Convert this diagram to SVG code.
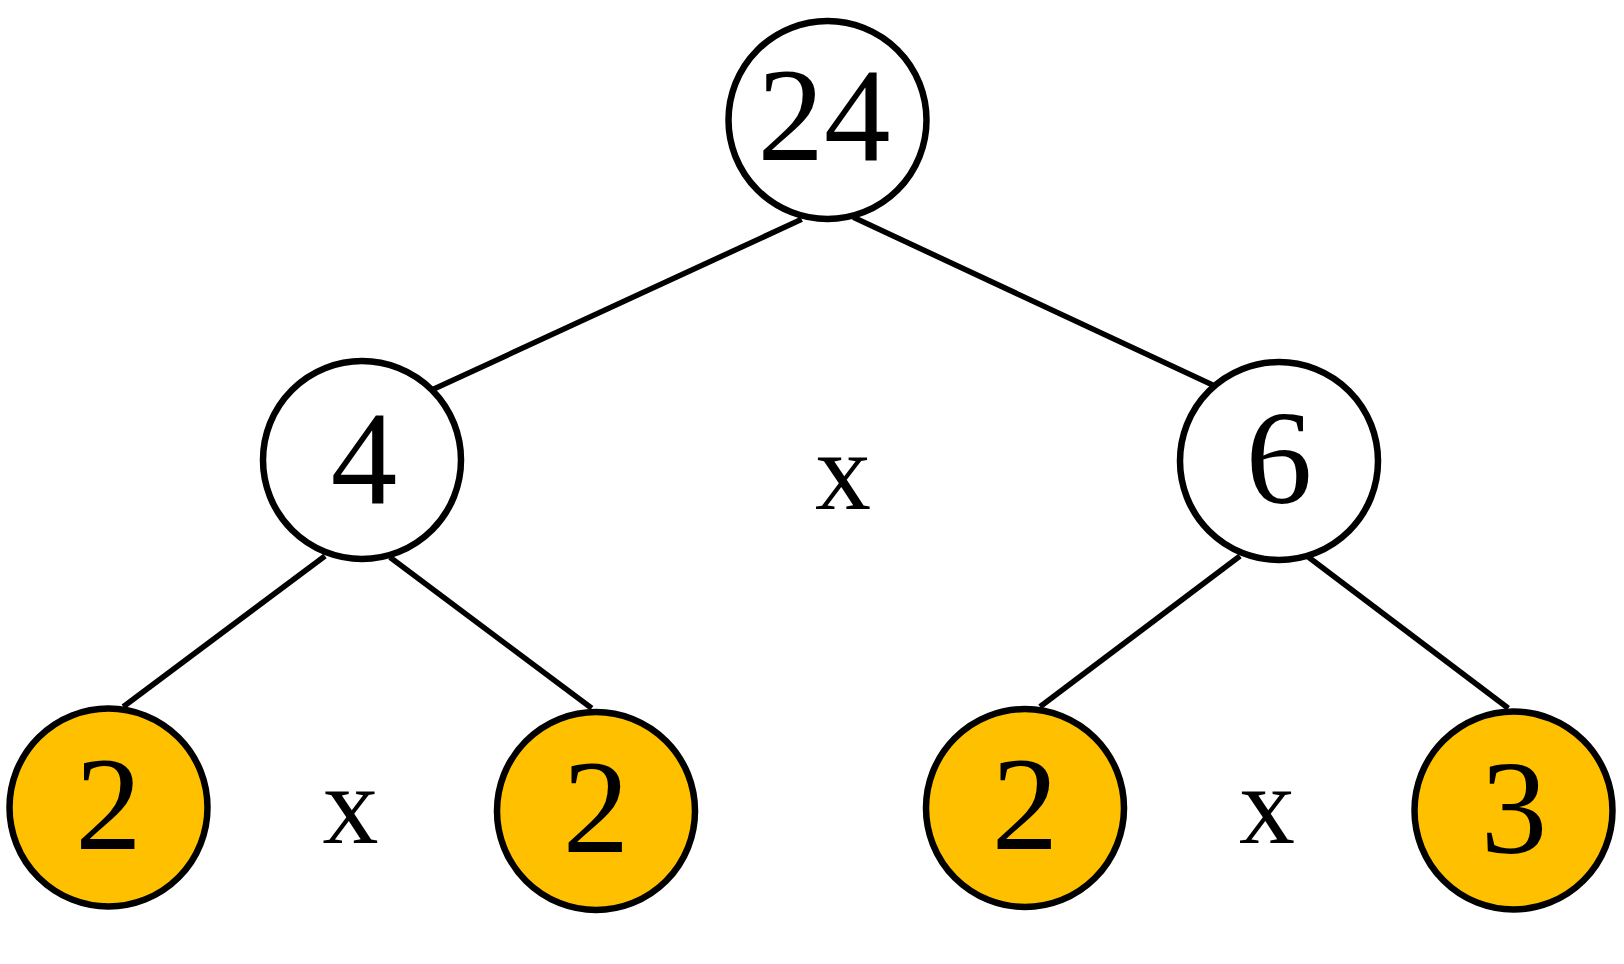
<svg xmlns="http://www.w3.org/2000/svg" width="1624" height="964" viewBox="0 0 1624 964">
<style>
.n{stroke:#000;stroke-width:6.5;fill:#fff}
.y{fill:#FFC000}
.t{font-family:"Liberation Serif","Times New Roman",Times,serif;font-size:133px;text-anchor:middle;fill:#000}
.op{font-family:"Liberation Serif","Times New Roman",Times,serif;font-size:112px;text-anchor:middle;fill:#000}
#edges line{stroke:#000;stroke-width:5.5;stroke-linecap:butt}
</style>
<rect width="1624" height="964" fill="#fff"/>
<g id="edges">
<line x1="801.7" y1="219.3" x2="433.3" y2="389.3"/>
<line x1="853.3" y1="217.3" x2="1212.7" y2="385"/>
<line x1="325" y1="556" x2="123.3" y2="706.7"/>
<line x1="390" y1="557.3" x2="591.7" y2="708.3"/>
<line x1="1240" y1="556" x2="1040" y2="706.7"/>
<line x1="1306" y1="555.3" x2="1508.3" y2="708.3"/>
</g>
<g id="root"><circle class="n" cx="827.5" cy="120" r="99"/><text class="t" x="824" y="160">24</text></g>
<g id="n4"><circle class="n" cx="362" cy="460" r="99"/><text class="t" x="364" y="503">4</text></g>
<g id="n6"><circle class="n" cx="1279" cy="461" r="99"/><text class="t" x="1279" y="503">6</text></g>
<g id="l1"><circle class="n y" cx="108.5" cy="807.5" r="99"/><text class="t" x="108.5" y="849">2</text></g>
<g id="l2"><circle class="n y" cx="596" cy="811" r="99"/><text class="t" x="596" y="852">2</text></g>
<g id="l3"><circle class="n y" cx="1025" cy="808" r="99"/><text class="t" x="1025" y="849">2</text></g>
<g id="l4"><circle class="n y" cx="1513.5" cy="810.5" r="99"/><text class="t" x="1514" y="853">3</text></g>
<g id="ops">
<text class="op" x="843" y="509">x</text>
<text class="op" x="350.5" y="843">x</text>
<text class="op" x="1267" y="843">x</text>
</g>
</svg>
